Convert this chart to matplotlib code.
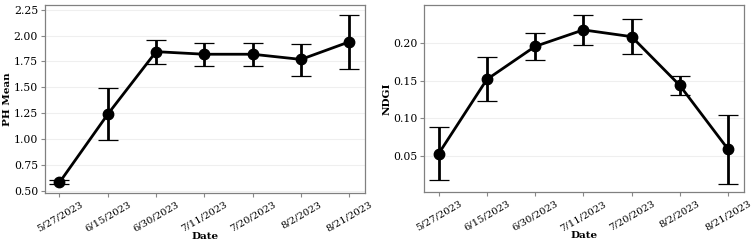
import matplotlib
matplotlib.use("Agg")
import matplotlib.pyplot as plt

dates = ["5/27/2023", "6/15/2023", "6/30/2023", "7/11/2023", "7/20/2023", "8/2/2023", "8/21/2023"]

ph_mean = [0.58, 1.24, 1.845, 1.82, 1.82, 1.77, 1.94]
ph_low = [0.565, 0.99, 1.725, 1.71, 1.71, 1.61, 1.675]
ph_high = [0.60, 1.49, 1.96, 1.93, 1.93, 1.92, 2.20]

ndgi_mean = [0.053, 0.152, 0.196, 0.218, 0.209, 0.144, 0.059]
ndgi_low = [0.018, 0.123, 0.178, 0.198, 0.186, 0.131, 0.013]
ndgi_high = [0.088, 0.182, 0.214, 0.238, 0.232, 0.157, 0.105]

plt.rcParams["font.family"] = "DejaVu Serif"

fig = plt.figure(figsize=(7.56, 2.44), dpi=100)
ax1 = fig.add_axes([0.0595, 0.209, 0.423, 0.770])
ax2 = fig.add_axes([0.561, 0.212, 0.4225, 0.767])


def panel(ax, mean, low, high, ylabel, ylim, yticks, fmt):
    x = list(range(len(dates)))
    err = [[m - l for m, l in zip(mean, low)], [h - m for m, h in zip(mean, high)]]
    line, caps, bars = ax.errorbar(x, mean, yerr=err, color="black", lw=2,
                                   marker="o", markersize=7.5, ecolor="black",
                                   elinewidth=2, capsize=7, capthick=0.9, zorder=3)
    for c in caps:
        c.set_color("#777777")
    ax.set_xlim(-0.3, 6.32)
    ax.set_ylim(*ylim)
    ax.set_xticks(x)
    ax.set_xticklabels(dates, rotation=30, ha="center", fontsize=7.2)
    ax.set_yticks(yticks)
    ax.set_yticklabels([fmt.format(v) for v in yticks], fontsize=7.8)
    ax.tick_params(axis="both", length=3, color="#888888", pad=2)
    ax.yaxis.grid(True, color="#efefef", lw=0.8)
    ax.set_axisbelow(True)
    for s in ax.spines.values():
        s.set_color("#808080")
        s.set_linewidth(0.9)
    ax.set_xlabel("Date", fontsize=7.5, fontweight="bold", labelpad=-1)
    ax.set_ylabel(ylabel, fontsize=7.5, fontweight="bold", labelpad=1)


panel(ax1, ph_mean, ph_low, ph_high, "PH Mean", (0.478, 2.295),
      [0.5, 0.75, 1.0, 1.25, 1.5, 1.75, 2.0, 2.25], "{:.2f}")
panel(ax2, ndgi_mean, ndgi_low, ndgi_high, "NDGI", (0.0017, 0.251),
      [0.05, 0.10, 0.15, 0.20], "{:.2f}")

fig.savefig("out.png", dpi=100)
